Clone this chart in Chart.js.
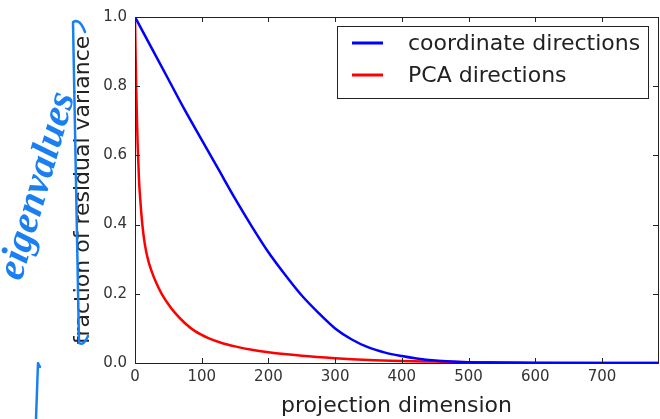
<!DOCTYPE html>
<html>
<head>
<meta charset="utf-8">
<script src="https://cdn.jsdelivr.net/npm/chart.js@4.4.1/dist/chart.umd.min.js"></script>
<style>
  html, body { margin: 0; padding: 0; background: #fff; }
  #wrap { width: 660px; height: 419px; position: relative; }
</style>
</head>
<body>
<div id="wrap"><canvas id="chart"></canvas></div>
<script>
// values
const coordX = [0, 25, 50, 75, 100, 125, 150, 175, 200, 225, 250, 275, 300, 325, 350, 375, 400, 425, 450, 475, 500, 550, 600, 650, 700, 784];
const coordY = [1.0, 0.91, 0.82, 0.73, 0.645, 0.56, 0.475, 0.395, 0.32, 0.255, 0.195, 0.145, 0.10, 0.068, 0.045, 0.03, 0.02, 0.012, 0.007, 0.004, 0.002, 0.001, 0.0003, 0, 0, 0];

const pcaX = [0, 1, 2, 3, 4, 6, 8, 11, 15, 20, 25, 30, 40, 50, 60, 75, 90, 110, 130, 150, 175, 200, 250, 300, 350, 400, 450, 500, 600, 700, 784];
const pcaY = [1.0, 0.88, 0.78, 0.7, 0.63, 0.53, 0.47, 0.40, 0.34, 0.295, 0.265, 0.24, 0.2, 0.17, 0.145, 0.115, 0.092, 0.072, 0.058, 0.048, 0.038, 0.031, 0.021, 0.014, 0.009, 0.006, 0.004, 0.002, 0.001, 0.0003, 0];

const seriesLabels = ['coordinate directions', 'PCA directions'];
const seriesColors = ['#0000ff', '#ff0000'];
const xTicks = [0, 100, 200, 300, 400, 500, 600, 700];
const xMax = 784;
const yTickStep = 0.2;

Chart.defaults.font.family = "'DejaVu Sans', sans-serif";

function toPoints(xs, ys) {
    return xs.map((x, i) => ({ x: x, y: ys[i] }));
}

// frame, inward ticks, legend box and the pen marks
const framePlugin = {
    id: 'frame',
    afterDatasetsDraw(chart) {
        const ctx = chart.ctx;
        const a = chart.chartArea;
        const xs = chart.scales.x;
        const ys = chart.scales.y;
        ctx.save();
        ctx.strokeStyle = '#222';
        ctx.lineWidth = 1;
        ctx.strokeRect(Math.round(a.left) + 0.5, Math.round(a.top) + 0.5,
            Math.round(a.right - a.left), Math.round(a.bottom - a.top));

        // inward tick marks on all four sides
        ctx.beginPath();
        xs.ticks.forEach(t => {
            const px = Math.round(xs.getPixelForValue(t.value)) + 0.5;
            ctx.moveTo(px, a.bottom); ctx.lineTo(px, a.bottom - 5);
            ctx.moveTo(px, a.top); ctx.lineTo(px, a.top + 5);
        });
        ys.ticks.forEach(t => {
            const py = Math.round(ys.getPixelForValue(t.value)) + 0.5;
            ctx.moveTo(a.left, py); ctx.lineTo(a.left + 5, py);
            ctx.moveTo(a.right, py); ctx.lineTo(a.right - 5, py);
        });
        ctx.stroke();

        // legend
        const lx = 337, ly = 26, lw = 311, lh = 72;
        ctx.fillStyle = '#fff';
        ctx.fillRect(lx, ly, lw, lh);
        ctx.strokeStyle = '#222';
        ctx.strokeRect(lx + 0.5, ly + 0.5, lw, lh);
        ctx.font = "22px 'DejaVu Sans'";
        ctx.textBaseline = 'middle';
        chart.data.datasets.forEach((ds, i) => {
            const y = ly + 17 + i * 32;
            ctx.strokeStyle = ds.borderColor;
            ctx.lineWidth = 3;
            ctx.beginPath();
            ctx.moveTo(lx + 15, y); ctx.lineTo(lx + 46, y);
            ctx.stroke();
            ctx.fillStyle = '#222';
            ctx.fillText(ds.label, lx + 71, y + 1);
        });
        ctx.restore();
    },
    afterDraw(chart) {
        const ctx = chart.ctx;
        ctx.save();
        ctx.strokeStyle = '#1a80f2';
        ctx.fillStyle = '#1a80f2';
        ctx.lineCap = 'round';
        ctx.lineJoin = 'round';
        ctx.lineWidth = 2.5;

        // long stroke over the y title
        ctx.beginPath();
        ctx.moveTo(85, 32);
        ctx.quadraticCurveTo(80, 18, 73, 22);
        ctx.lineTo(79, 343);
        ctx.quadraticCurveTo(84, 346, 88, 336);
        ctx.stroke();

        // short vertical mark at the bottom left
        ctx.beginPath();
        ctx.moveTo(40, 367);
        ctx.lineTo(38, 363);
        ctx.lineTo(36, 419);
        ctx.stroke();

        // handwritten word
        ctx.translate(38, 186);
        ctx.rotate(-74 * Math.PI / 180);
        ctx.font = "italic bold 40px 'Liberation Serif'";
        ctx.textAlign = 'center';
        ctx.textBaseline = 'middle';
        ctx.fillText('eigenvalues', 0, 0, 222);
        ctx.restore();
    }
};

const config = {
    type: 'line',
    data: {
        datasets: [
            {
                label: seriesLabels[0],
                data: toPoints(coordX, coordY),
                borderColor: seriesColors[0],
                borderWidth: 2.5,
                pointRadius: 0,
                cubicInterpolationMode: 'monotone',
                fill: false
            },
            {
                label: seriesLabels[1],
                data: toPoints(pcaX, pcaY),
                borderColor: seriesColors[1],
                borderWidth: 2.5,
                pointRadius: 0,
                cubicInterpolationMode: 'monotone',
                fill: false
            }
        ]
    },
    options: {
        responsive: true,
        maintainAspectRatio: false,
        animation: false,
        layout: {
            padding: { left: 70, top: 14, right: 2, bottom: 0 }
        },
        plugins: {
            legend: { display: false },
            tooltip: { enabled: false }
        },
        scales: {
            x: {
                type: 'linear',
                min: 0,
                max: xMax,
                grid: { display: false, drawTicks: false },
                border: { display: false },
                afterBuildTicks: function(scale) {
                    scale.ticks = xTicks.map(v => ({ value: v }));
                },
                afterFit: function(scale) { scale.height = 56; },
                ticks: {
                    padding: 5,
                    color: '#333',
                    font: { size: 15 },
                    callback: v => String(v)
                },
                title: {
                    display: true,
                    text: 'projection dimension',
                    color: '#222',
                    font: { size: 22 },
                    padding: { top: 0, bottom: 0 }
                }
            },
            y: {
                min: 0,
                max: 1,
                grid: { display: false, drawTicks: false },
                border: { display: false },
                afterFit: function(scale) { scale.width = 65; },
                ticks: {
                    stepSize: yTickStep,
                    padding: 8,
                    color: '#333',
                    font: { size: 15 },
                    callback: v => Number(v).toFixed(1)
                },
                title: {
                    display: true,
                    text: 'fraction of residual variance',
                    color: '#222',
                    font: { size: 22 },
                    padding: { top: 0, bottom: 0 }
                }
            }
        }
    },
    plugins: [framePlugin]
};

const chart = new Chart(document.getElementById('chart'), config);
</script>
</body>
</html>
